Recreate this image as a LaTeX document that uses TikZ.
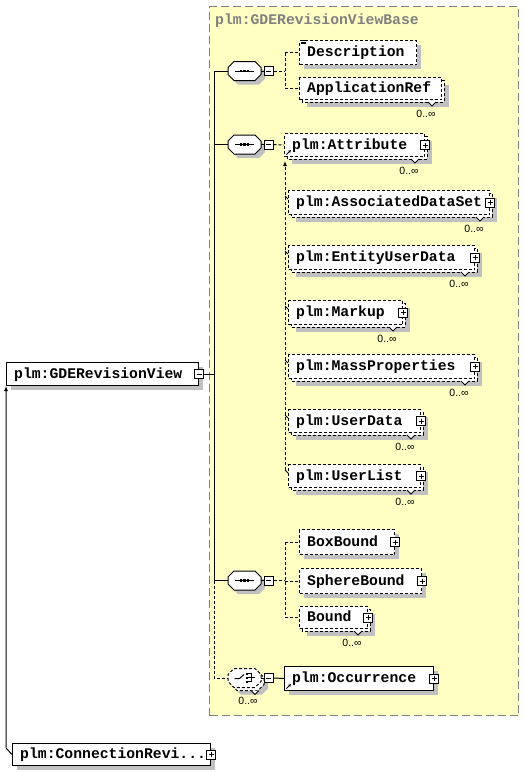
\documentclass[tikz,border=0pt]{standalone}
\usepackage{fontspec}
\setmainfont{Liberation Sans}
\newfontfamily\xmono{Liberation Mono}
\usetikzlibrary{arrows.meta}
\definecolor{ybg}{RGB}{255,255,196}
\definecolor{ybd}{RGB}{128,128,128}
\definecolor{shd}{RGB}{192,192,192}
\newcommand\tfont{\xmono\bfseries\fontsize{14.75}{16}\selectfont}
\tikzset{
 ln/.style={line width=1pt, draw=black},
 dsh/.style={dash pattern=on 3pt off 2pt},
 ebox/.style={draw=black, line width=1pt, fill=white, shape=rectangle, inner sep=0pt},
 etext/.style={font=\tfont, anchor=base west, inner sep=0pt},
 pm/.style={draw=black, fill=white, line width=1pt, shape=rectangle, minimum size=9pt, inner sep=0pt},
 pls/.style={pm, path picture={\draw[line width=1pt] ([xshift=2pt]path picture bounding box.west) -- ([xshift=-2pt]path picture bounding box.east) ([yshift=2pt]path picture bounding box.south) -- ([yshift=-2pt]path picture bounding box.north);}},
 mns/.style={pm, path picture={\draw[line width=1pt] ([xshift=2pt]path picture bounding box.west) -- ([xshift=-2pt]path picture bounding box.east);}},
 card/.style={font=\fontsize{10.5}{11}\selectfont, inner sep=0pt},
 refarrow/.style={line width=0.8pt, -{Stealth[length=3pt,width=3pt]}},
}
% single element box: name x y w h style text
\newcommand\sElem[7]{%
 \fill[shd] (#2+5,#3+5) rectangle (#2+#4+5,#3+#5+5);
 \node[ebox,#6,anchor=north west,minimum width=#4pt,minimum height=#5pt] (#1) at (#2,#3) {};
 \node[etext] (#1t) at ([xshift=8pt,yshift=-4.2pt]#1.west) {#7};
}
% multiple element box
\newcommand\mElem[7]{%
 \fill[shd] (#2+8,#3+8) rectangle (#2+#4+8,#3+#5+8);
 \draw[ln,fill=white,#6] (#2+3,#3+3) rectangle (#2+#4+3,#3+#5+3);
 \node[ebox,#6,anchor=north west,minimum width=#4pt,minimum height=#5pt] (#1) at (#2,#3) {};
 \node[etext] (#1t) at ([xshift=8pt,yshift=-4.2pt]#1.west) {#7};
 \draw[line width=1pt,fill=white] (#2+#4-13,#3+#5+3) -- (#2+#4-9,#3+#5+7) -- (#2+#4-5,#3+#5+3);
 \node[card] (#1c) at (#2+#4-15,#3+#5+15) {0..∞};
}
\newcommand\octP[3]{\path[#1] (#2-10.5,#3-9.5) -- (#2+10.5,#3-9.5) -- (#2+16.5,#3-3.5) -- (#2+16.5,#3+3.5) -- (#2+10.5,#3+9.5) -- (#2-10.5,#3+9.5) -- (#2-16.5,#3+3.5) -- (#2-16.5,#3-3.5) -- cycle;}
\newcommand\seqC[3]{%
 \octP{fill=shd}{#2+4}{#3+4}
 \octP{draw=black,fill=white,line width=1pt}{#2}{#3}
 \node[inner sep=0pt,minimum width=33pt,minimum height=19pt] (#1) at (#2,#3) {};
 \draw[line width=1pt] (#2-9.5,#3) -- (#2+9.5,#3);
 \fill (#2-4.75,#3-1.25) rectangle (#2-2.25,#3+1.25);
 \fill (#2-1.25,#3-1.25) rectangle (#2+1.25,#3+1.25);
 \fill (#2+2.25,#3-1.25) rectangle (#2+4.75,#3+1.25);
 \node[mns] (#1m) at (#2+24,#3) {};
 \draw[line width=1pt] (#1.east) -- (#1m.west);
}
\begin{document}
\begin{tikzpicture}[x=1pt,y=-1pt]
\useasboundingbox (0,0) rectangle (524,772);
\fill[white] (0,0) rectangle (524,772);
\node[draw=ybd, fill=ybg, line width=1pt, dash pattern=on 8pt off 4pt, anchor=north west, minimum width=309pt, minimum height=709pt, inner sep=0pt] (base) at (209,6) {};
\node[font=\tfont, text=ybd, anchor=base west, inner sep=0pt] (title) at (215,24) {plm:GDERevisionViewBase};

% main element
\sElem{gv}{6}{362}{192}{23}{solid}{plm:GDERevisionView}
\node[mns] (gvm) at (gv.east) {};
\sElem{cr}{12}{743}{198}{22}{solid}{plm:ConnectionRevi...}
\node[pls] (crp) at (cr.east) {};

% compositors
\seqC{s1}{244.5}{71}
\seqC{s2}{244.5}{144.5}
\seqC{s3}{244.5}{580.5}

% choice
\octP{fill=shd}{251.5}{685}
\octP{draw=black,fill=white,line width=1pt,dsh}{247.5}{681}
\octP{draw=black,fill=white,line width=1pt,dsh}{244.5}{678}
\node[inner sep=0pt,minimum width=33pt,minimum height=19pt] (ch) at (244.5,678) {};
\draw[line width=1pt,fill=white] (251,690.5) -- (255,694.5) -- (259,690.5);
\node[card] (chc) at (248,701) {0..∞};
\draw[line width=1pt] (234.5,678.5) -- (239.5,678.5) -- (244,674.5);
\fill (245.5,672.5) rectangle (248,675);
\fill (245.5,676.5) rectangle (248,679);
\fill (245.5,680.5) rectangle (248,683);
\draw[line width=0.8pt] (248,673.75) -- (251.5,673.75) -- (251.5,681.75) -- (248,681.75) (248,677.75) -- (251.5,677.75) (251.5,677.75) -- (255,677.75);
\node[mns] (chm) at (268.5,678) {};
\draw[line width=1pt] (ch.east) -- (chm.west);

% children of sequence 1
\sElem{desc}{299}{40}{117}{24}{dsh}{Description}
\foreach \dy in {0.8,2.3,3.8} \draw[line width=0.7pt] ([xshift=1.5pt,yshift=-\dy pt]desc.north west) -- ++(5,0);
\mElem{app}{299}{77}{142}{22}{dsh}{ApplicationRef}

% sequence 2
\mElem{attr}{284}{133}{140}{23}{dsh}{plm:Attribute}
\node[pls] (attrp) at (attr.east) {};
\draw[refarrow] ([xshift=2.5pt,yshift=2.5pt]attr.south west) -- ([xshift=7pt,yshift=7pt]attr.south west);
\mElem{ads}{288}{190}{201}{24}{dsh}{plm:AssociatedDataSet}
\node[pls] (adsp) at (ads.east) {};
\mElem{eud}{288}{245}{186}{24}{dsh}{plm:EntityUserData}
\node[pls] (eudp) at (eud.east) {};
\mElem{mkp}{288}{300}{114}{24}{dsh}{plm:Markup}
\node[pls] (mkpp) at (mkp.east) {};
\mElem{mass}{288}{354}{186}{24}{dsh}{plm:MassProperties}
\node[pls] (massp) at (mass.east) {};
\mElem{udata}{288}{409}{132}{23}{dsh}{plm:UserData}
\node[pls] (udatap) at (udata.east) {};
\mElem{ulist}{288}{464}{132}{23}{dsh}{plm:UserList}
\node[pls] (ulistp) at (ulist.east) {};

% sequence 3
\sElem{bbox}{299}{529}{95}{25}{dsh}{BoxBound}
\node[pls] (bboxp) at (bbox.east) {};
\sElem{sbound}{299}{568}{122}{25}{dsh}{SphereBound}
\node[pls] (sboundp) at (sbound.east) {};
\mElem{bound}{299}{606}{68}{22}{dsh}{Bound}
\node[pls] (boundp) at (bound.east) {};

% occurrence
\sElem{occ}{284}{666}{149}{24}{solid}{plm:Occurrence}
\node[pls] (occp) at (occ.east) {};
\draw[refarrow] ([xshift=2.5pt,yshift=2.5pt]occ.south west) -- ([xshift=7pt,yshift=7pt]occ.south west);

% connectors
\coordinate (vtop) at (214,71);
\coordinate (v2) at (214,144.5);
\coordinate (vb) at (214,580.5);
\coordinate (vd) at (214,678);
\draw[ln] (vtop) -- (vb);
\draw[ln,dsh] (vb) -- (vd) -- (ch.west);
\draw[ln] (vtop) -- (s1.west);
\draw[ln] (v2) -- (s2.west);
\draw[ln] (vb) -- (s3.west);
\draw[ln] (gvm.east) -- (gvm.east -| vtop);

\coordinate (j1) at (285,71);
\draw[ln,dsh] (s1m.east) -- (j1);
\draw[ln,dsh] (desc.west -| j1) -- (app.west -| j1);
\draw[ln,dsh] (desc.west -| j1) -- (desc.west);
\draw[ln,dsh] (app.west -| j1) -- (app.west);

\draw[ln,dsh] (s2m.east) -- (attr.west);

\coordinate (j3) at (285,580.5);
\draw[ln,dsh] (s3m.east) -- (j3);
\draw[ln,dsh] (bbox.west -| j3) -- (bound.west -| j3);
\draw[ln,dsh] (bbox.west -| j3) -- (bbox.west);
\draw[ln,dsh] (sbound.west -| j3) -- (sbound.west);
\draw[ln,dsh] (bound.west -| j3) -- (bound.west);

\draw[ln] (chm.east) -- (occ.west);

% substitution group
\coordinate (sg) at (285,161);
\draw[ln,dsh,-{Latex[length=5pt,width=4pt]}] ([xshift=-3pt,yshift=-6pt]ulist.north west) -- (sg);
\foreach \n in {ads,eud,mkp,mass,udata,ulist}
  \draw[line width=0.8pt] ([xshift=-3pt,yshift=-6pt]\n.north west) -- ([yshift=-9pt]\n.north west);

% link from ConnectionRevi
\coordinate (ca) at (6,748);
\draw[ln,-{Latex[length=5pt,width=4pt]}] (cr.west) -- (ca) -- (ca |- gv.south);
\end{tikzpicture}
\end{document}
